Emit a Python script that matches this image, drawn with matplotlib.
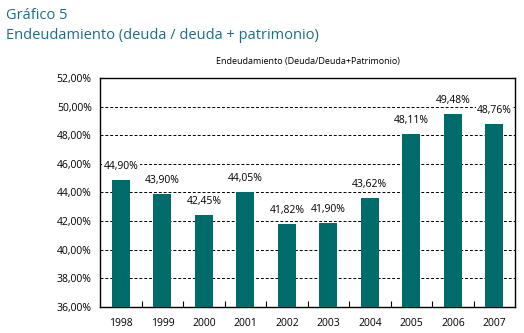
import matplotlib
matplotlib.use("Agg")
import matplotlib.pyplot as plt
from matplotlib.ticker import FuncFormatter

years = ["1998", "1999", "2000", "2001", "2002", "2003", "2004", "2005", "2006", "2007"]
values = [44.90, 43.90, 42.45, 44.05, 41.82, 41.90, 43.62, 48.11, 49.48, 48.76]
labels = ["44,90%", "43,90%", "42,45%", "44,05%", "41,82%", "41,90%", "43,62%", "48,11%", "49,48%", "48,76%"]

plt.rcParams['font.family'] = ['Open Sans', 'DejaVu Sans']

fig = plt.figure(figsize=(5.24, 3.33), dpi=100)
ax = fig.add_axes([0.191, 0.078, 0.792, 0.688])

x = range(len(years))
ax.bar(x, [v - 36 for v in values], bottom=36, width=0.43, color='#006b6b', zorder=3)

ax.set_ylim(36, 52)
ax.set_xlim(-0.5, len(years) - 0.5)
ax.set_yticks(range(36, 53, 2))
ax.yaxis.set_major_formatter(FuncFormatter(lambda v, p: f"{v:.2f}".replace('.', ',') + "%"))
ax.grid(axis='y', color='black', linestyle=(0, (3, 2)), linewidth=0.7, zorder=1)

ax.set_xticks(list(x))
ax.set_xticklabels(years)
ax.set_xticks([i + 0.5 for i in range(len(years) - 1)], minor=True)
ax.tick_params(axis='x', which='major', length=0, labelsize=7.5, pad=8)
ax.tick_params(axis='x', which='minor', length=4, direction='in', width=0.8)
ax.tick_params(axis='y', length=0, labelsize=7.5, pad=6)

for s in ax.spines.values():
    s.set_linewidth(1.0)

# value labels sit on a white patch that hides the grid line behind them
for i, (v, lab) in enumerate(zip(values, labels)):
    ax.text(i, v + 0.55, lab, ha='center', va='bottom', fontsize=7.5, zorder=4,
            bbox=dict(facecolor='white', edgecolor='none', pad=1))

fig.text(0.012, 0.975, "Gráfico 5", fontsize=10.5, color='#1a6f88', va='top')
fig.text(0.012, 0.915, "Endeudamiento (deuda / deuda + patrimonio)", fontsize=10.5, color='#1a6f88', va='top')
fig.text(0.587, 0.815, "Endeudamiento (Deuda/Deuda+Patrimonio)", fontsize=6.5, ha='center', va='center')

fig.savefig("out.png", dpi=100)
